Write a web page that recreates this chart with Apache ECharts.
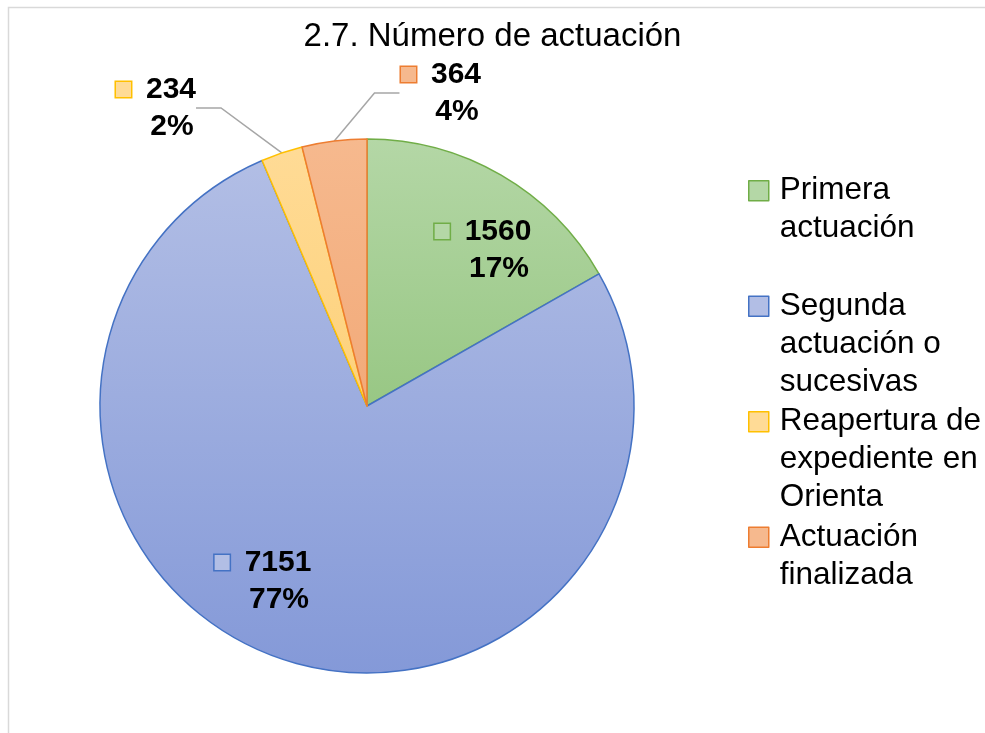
<!DOCTYPE html>
<html>
<head>
<meta charset="utf-8">
<title>2.7. Número de actuación</title>
<script src="https://cdn.jsdelivr.net/npm/echarts@6/dist/echarts.min.js"></script>
<style>
	html, body { margin: 0; padding: 0; background: #fff; }
	#chart { width: 985px; height: 733px; }
</style>
</head>
<body>
<div id="chart"></div>
<script>
var categories = ['Primera actuación', 'Segunda actuación o sucesivas', 'Reapertura de expediente en Orienta', 'Actuación finalizada'];
var legendLines = ['Primera\nactuación\n', 'Segunda\nactuación o\nsucesivas', 'Reapertura de\nexpediente en\nOrienta', 'Actuación\nfinalizada\n'];
var values = [1560, 7151, 234, 364];
var percents = ['17%', '77%', '2%', '4%'];
var topColors = ['#b4d7a6', '#b2bee5', '#ffdb96', '#f6b98e'];
var bottomColors = ['#98c784', '#8499d8', '#fdd17a', '#f2aa79'];
var borderColors = ['#70ad47', '#4472c4', '#ffc000', '#ed7d31'];
//label centres (x,y) in px, like the data labels that were dragged in excel
var labelPos = [[483, 250], [263, 581], [156, 108], [441, 93]];

var chart = echarts.init(document.getElementById('chart'));

var data = [];
var legendData = [];
var rich = {
	v: { fontSize: 30, fontWeight: 'bold', color: '#000', lineHeight: 37, fontFamily: 'Liberation Sans, Arial' },
	p: { fontSize: 30, fontWeight: 'bold', color: '#000', lineHeight: 37, fontFamily: 'Liberation Sans, Arial' },
	g: { width: 15, height: 17 },
	s: { width: 32, height: 17 }
};
for (var i = 0; i < categories.length; i++) {
	rich['m' + i] = {
		width: 15,
		height: 15,
		backgroundColor: topColors[i],
		borderColor: borderColors[i],
		borderWidth: 1.5
	};
	var outside = i >= 2;
	data.push({
		name: categories[i],
		value: values[i],
		itemStyle: {
			color: new echarts.graphic.LinearGradient(0, 0, 0, 1, [
				{ offset: 0, color: topColors[i] },
				{ offset: 1, color: bottomColors[i] }
			]),
			borderColor: borderColors[i],
			borderWidth: 1.5
		},
		label: { position: outside ? 'outside' : 'inside' },
		labelLine: { show: outside }
	});
	legendData.push({
		name: categories[i],
		itemStyle: { color: topColors[i], borderColor: borderColors[i], borderWidth: 1.5 }
	});
}

var option = {
	backgroundColor: '#fff',
	animation: false,
	title: {
		text: '2.7. Número de actuación',
		left: 'center',
		top: 15,
		textStyle: { fontSize: 33, fontWeight: 'normal', color: '#000', fontFamily: 'Liberation Sans, Arial' }
	},
	graphic: [{
		type: 'rect',
		shape: { x: 8.5, y: 7.5, width: 1100, height: 900 },
		style: { fill: 'none', stroke: '#d9d9d9', lineWidth: 1.5 },
		silent: true
	}],
	legend: {
		orient: 'vertical',
		left: 748,
		top: 171,
		padding: 0,
		itemGap: 0,
		itemWidth: 26,
		itemHeight: 114,
		selectedMode: false,
		//square at the top of a tall box so it sits on the first text line
		icon: 'path://M0,0M26,114M0,9H20V29H0Z',
		data: legendData,
		formatter: function (name) {
			return legendLines[categories.indexOf(name)];
		},
		textStyle: { fontSize: 31.5, lineHeight: 38, color: '#000', fontFamily: 'Liberation Sans, Arial' }
	},
	series: [{
		type: 'pie',
		center: [367, 406],
		radius: 267,
		startAngle: 90,
		clockwise: true,
		label: {
			show: true,
			color: '#000',
			formatter: function (p) {
				return '{m' + p.dataIndex + '|}{g|}{v|' + p.value + '}\n{s|}{p|' + percents[p.dataIndex] + '}';
			},
			rich: rich
		},
		labelLine: {
			length: 55,
			length2: 25,
			lineStyle: { color: '#a6a6a6', width: 1.5 }
		},
		labelLayout: function (p) {
			return {
				x: labelPos[p.dataIndex][0],
				y: labelPos[p.dataIndex][1],
				align: 'center',
				verticalAlign: 'middle'
			};
		},
		emphasis: { disabled: true },
		data: data
	}]
};
chart.setOption(option);
</script>
</body>
</html>
